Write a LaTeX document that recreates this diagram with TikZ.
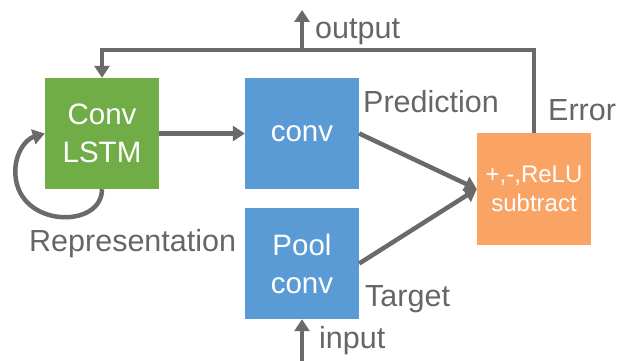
\documentclass[tikz,border=0pt]{standalone}
\usepackage{fontspec}
\setmainfont{Liberation Sans}
\usetikzlibrary{arrows.meta}
\definecolor{lstmgreen}{HTML}{70AD47}
\definecolor{convblue}{HTML}{5B9BD5}
\definecolor{errorange}{HTML}{F9A465}
\definecolor{wire}{HTML}{6A6A6A}
\definecolor{labelgray}{HTML}{666666}
\tikzset{
  block/.style={minimum width=114pt, minimum height=111pt, inner sep=0pt,
    text=white, align=center, font=\fontsize{29.5}{38}\selectfont},
  lbl/.style={anchor=base west, inner sep=0pt, text=labelgray,
    font=\fontsize{30.5}{36}\selectfont},
  flow/.style={draw=wire, line width=4.5pt,
    -{Triangle[length=12pt,width=15pt]}},
  plain/.style={draw=wire, line width=4.5pt}
}
\begin{document}
\begin{tikzpicture}[x=1pt, y=-1pt]
  \useasboundingbox (0,0) rectangle (624,361);

  % processing blocks
  \node[block, fill=lstmgreen] (lstm) at (102,133.5) {Conv\\LSTM};
  \node[block, fill=convblue]  (conv) at (302,133.5) {conv};
  \node[block, fill=convblue]  (pool) at (302,263.5) {Pool\\conv};
  \node[block, fill=errorange, minimum height=112pt,
        font=\fontsize{24}{29}\selectfont] (err) at (534,189) {+,-,ReLU\\subtract};

  % free ends and junction of the feedback line
  \coordinate (jn)  at (302,50);
  \coordinate (top) at (302,10);
  \coordinate (bot) at (302,361);
  \coordinate (corner) at (534,50);

  % feedback from the error block to the LSTM
  \draw[flow] (err.north) -- (corner) -| (lstm.north);
  \draw[flow] (jn) -- (top);
  \draw[flow] (bot) -- (pool.south);

  % forward connections
  \draw[flow] (lstm.east) -- (conv.west);
  \draw[flow] (conv.east) -- (err.west);
  \draw[flow] (pool.east) -- (err.west);

  % recurrent loop of the LSTM
  \draw[flow] (lstm.south) .. controls (102,228) and (24,228) .. (16,180)
              .. controls (12,155) and (26,139) .. (lstm.west);

  % labels
  \node[lbl] (lout)  at (315,39)  {output};
  \node[lbl] (lpred) at (363,112) {Prediction};
  \node[lbl] (lerr)  at (548,120) {Error};
  \node[lbl] (lrep)  at (29,251)  {Representation};
  \node[lbl] (ltgt)  at (365,306) {Target};
  \node[lbl] (lin)   at (319,348) {input};
\end{tikzpicture}
\end{document}
